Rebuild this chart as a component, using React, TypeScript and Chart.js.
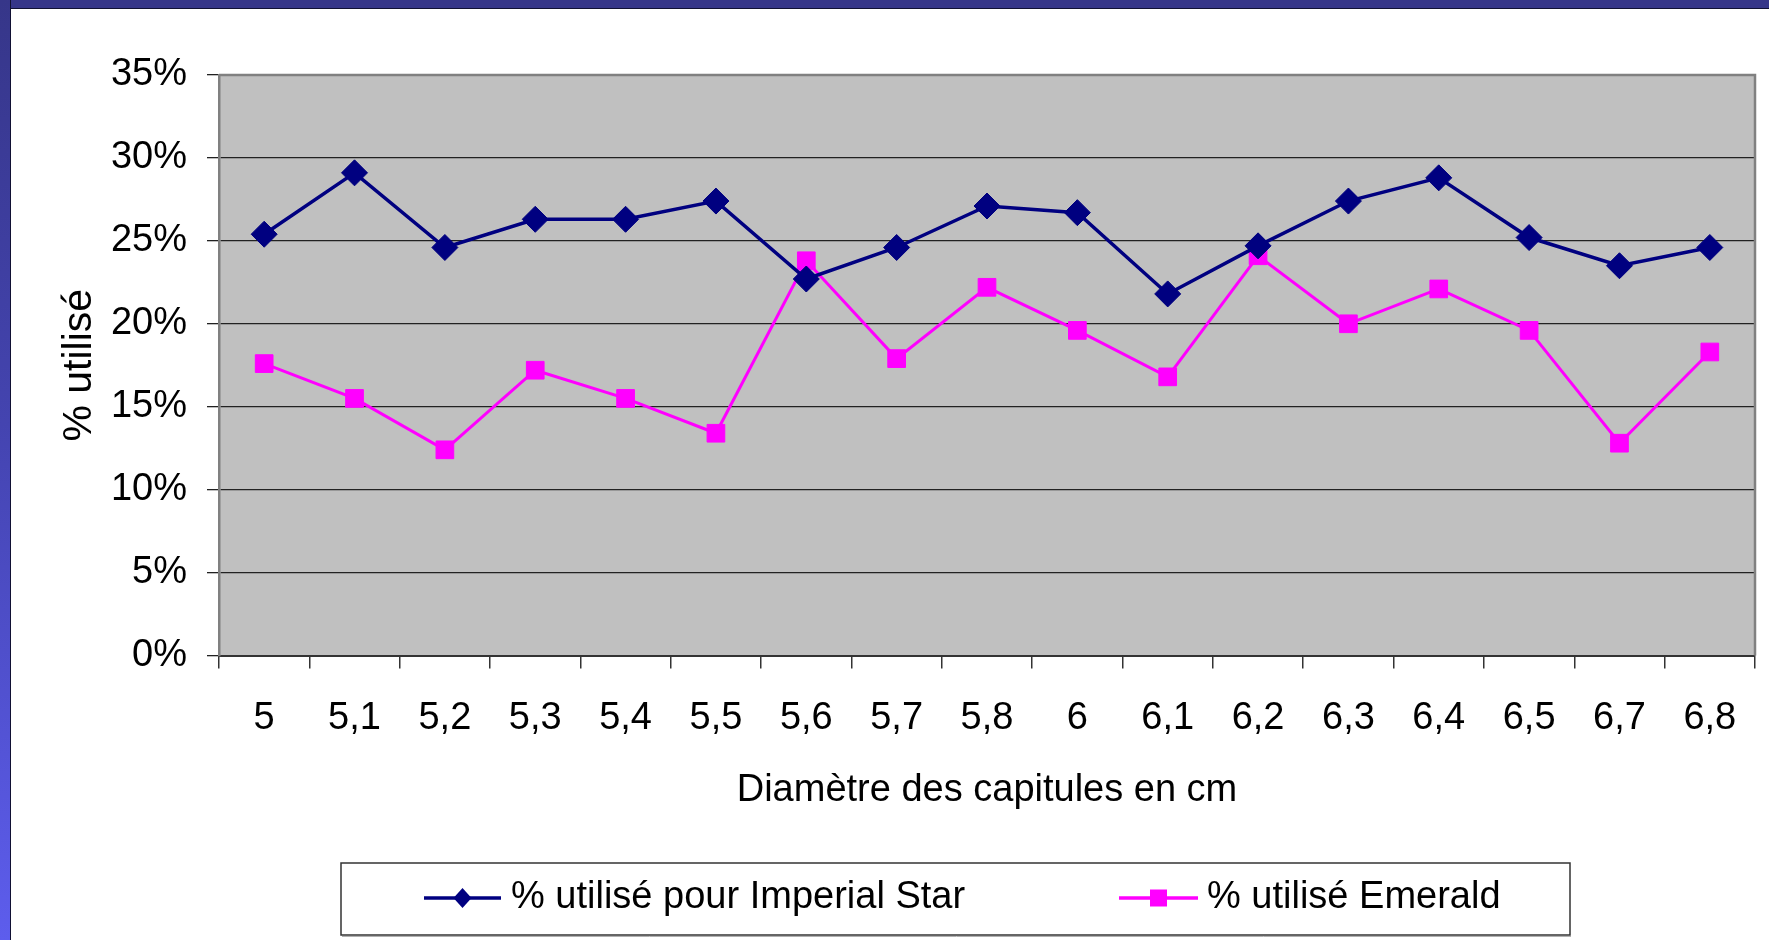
import React, { useEffect, useRef } from 'react';
import { Chart, registerables } from 'chart.js';

Chart.register(...registerables);

// ---- data ----
const categories = ['5', '5,1', '5,2', '5,3', '5,4', '5,5', '5,6', '5,7', '5,8', '6', '6,1', '6,2', '6,3', '6,4', '6,5', '6,7', '6,8'];
const imperialStar = [25.4, 29.1, 24.6, 26.3, 26.3, 27.4, 22.7, 24.6, 27.1, 26.7, 21.8, 24.7, 27.4, 28.8, 25.2, 23.5, 24.6];
const emerald = [17.6, 15.5, 12.4, 17.2, 15.5, 13.4, 23.8, 17.9, 22.2, 19.6, 16.8, 24.1, 20.0, 22.1, 19.6, 12.8, 18.3];
const seriesNames = ['% utilisé pour Imperial Star', '% utilisé Emerald'];
const yMin = 0;
const yMax = 35;
const yStep = 5;
const xTitle = 'Diamètre des capitules en cm';
const yTitle = '% utilisé';

const FONT = '"Liberation Sans", Arial, Helvetica, sans-serif';
const FS = 38;
const NAVY = '#000080';
const MAGENTA = '#FF00FF';

const CANVAS_W = 1758;
const CANVAS_H = 931;

const plotBackground = {
  id: 'plotBackground',
  beforeDraw(chart: any) {
    const { ctx, chartArea } = chart;
    ctx.save();
    ctx.fillStyle = '#C0C0C0';
    ctx.fillRect(chartArea.left, chartArea.top, chartArea.right - chartArea.left, chartArea.bottom - chartArea.top);
    ctx.restore();
  },
  beforeDatasetsDraw(chart: any) {
    const { ctx, chartArea } = chart;
    ctx.save();
    ctx.strokeStyle = '#808080';
    ctx.lineWidth = 2.5;
    ctx.beginPath();
    ctx.moveTo(chartArea.left, chartArea.top);
    ctx.lineTo(chartArea.right, chartArea.top);
    ctx.lineTo(chartArea.right, chartArea.bottom);
    ctx.stroke();
    ctx.restore();
  },
};

function drawMarker(ctx: CanvasRenderingContext2D, kind: string, x: number, y: number, color: string) {
  ctx.fillStyle = color;
  ctx.beginPath();
  if (kind === 'diamond') {
    const rx = 9;
    const ry = 10;
    ctx.moveTo(x, y - ry);
    ctx.lineTo(x + rx, y);
    ctx.lineTo(x, y + ry);
    ctx.lineTo(x - rx, y);
    ctx.closePath();
  } else {
    const h = 8.5;
    ctx.rect(x - h, y - h, 2 * h, 2 * h);
  }
  ctx.fill();
}

const boxLegend = {
  id: 'boxLegend',
  afterDraw(chart: any) {
    const ctx: CanvasRenderingContext2D = chart.ctx;
    const box = { x: 330, y: 854, w: 1229, h: 72 };
    const cy = 889;
    const items = [
      { text: chart.data.datasets[0].label, color: NAVY, kind: 'diamond', x0: 413, x1: 490, textX: 500 },
      { text: chart.data.datasets[1].label, color: MAGENTA, kind: 'square', x0: 1108, x1: 1187, textX: 1196 },
    ];
    ctx.save();
    ctx.fillStyle = '#ffffff';
    ctx.fillRect(box.x, box.y, box.w, box.h);
    ctx.strokeStyle = '#333333';
    ctx.lineWidth = 1.5;
    ctx.strokeRect(box.x, box.y, box.w, box.h);
    ctx.strokeStyle = '#b0b0b0';
    ctx.lineWidth = 1;
    ctx.beginPath();
    ctx.moveTo(box.x + 1, box.y + box.h + 1.5);
    ctx.lineTo(box.x + box.w + 1, box.y + box.h + 1.5);
    ctx.stroke();
    items.forEach((it) => {
      ctx.strokeStyle = it.color;
      ctx.lineWidth = 3.5;
      ctx.beginPath();
      ctx.moveTo(it.x0, cy);
      ctx.lineTo(it.x1, cy);
      ctx.stroke();
      drawMarker(ctx, it.kind, (it.x0 + it.x1) / 2, cy, it.color);
      ctx.fillStyle = '#000000';
      ctx.font = `${FS}px ${FONT}`;
      ctx.textBaseline = 'middle';
      ctx.textAlign = 'left';
      ctx.fillText(it.text, it.textX, cy);
    });
    ctx.restore();
  },
};

export default function App() {
  const canvasRef = useRef<HTMLCanvasElement | null>(null);

  useEffect(() => {
    if (!canvasRef.current) return;
    const chart = new Chart(canvasRef.current, {
      type: 'line',
      data: {
        labels: categories,
        datasets: [
          {
            label: seriesNames[0],
            data: imperialStar,
            borderColor: NAVY,
            backgroundColor: NAVY,
            borderWidth: 3.5,
            pointStyle: 'rectRot',
            pointRadius: 13,
            pointBorderColor: NAVY,
            pointBackgroundColor: NAVY,
            pointBorderWidth: 1,
            tension: 0,
          },
          {
            label: seriesNames[1],
            data: emerald,
            borderColor: MAGENTA,
            backgroundColor: MAGENTA,
            borderWidth: 3,
            pointStyle: 'rect',
            pointRadius: 12.5,
            pointBorderColor: MAGENTA,
            pointBackgroundColor: MAGENTA,
            pointBorderWidth: 1,
            tension: 0,
          },
        ],
      },
      options: {
        animation: false,
        responsive: false,
        devicePixelRatio: 1,
        layout: { padding: { top: 66, right: 8, bottom: 127, left: 0 } },
        plugins: {
          legend: { display: false },
          tooltip: { enabled: false },
        },
        scales: {
          x: {
            offset: true,
            grid: {
              offset: true,
              drawOnChartArea: false,
              drawTicks: true,
              tickLength: 13,
              color: '#333333',
              lineWidth: 1.5,
            },
            border: { color: '#333333', width: 2 },
            ticks: {
              color: '#000000',
              font: { family: FONT, size: FS, lineHeight: 2.62 },
              padding: 0,
              maxRotation: 0,
              autoSkip: false,
            },
            title: {
              display: true,
              text: xTitle,
              color: '#000000',
              font: { family: FONT, size: FS },
              padding: 0,
            },
            afterFit: (s: any) => {
              s.height = 157.5;
            },
          },
          y: {
            min: yMin,
            max: yMax,
            ticks: {
              stepSize: yStep,
              color: '#000000',
              font: { family: FONT, size: FS },
              padding: 20,
              callback: (v: any) => `${v}%`,
            },
            grid: {
              color: '#222222',
              lineWidth: 1.3,
              tickLength: 12,
              drawTicks: true,
            },
            border: { color: '#808080', width: 2.5 },
            title: {
              display: true,
              text: yTitle,
              color: '#000000',
              font: { family: FONT, size: 41 },
              padding: { top: 44, bottom: 0 },
            },
            afterFit: (s: any) => {
              s.width = 208;
            },
          },
        },
      },
      plugins: [plotBackground, boxLegend],
    } as any);
    return () => chart.destroy();
  }, []);

  return (
    <div style={{ position: 'absolute', left: 0, top: 0, width: 1769, height: 940, background: '#ffffff', overflow: 'hidden' }}>
      <div
        style={{
          position: 'absolute', left: 0, top: 0, width: 1769, height: 8,
          background: '#363689', borderBottom: '1px solid #111133',
        }}
      />
      <div
        style={{
          position: 'absolute', left: 0, top: 0, width: 10, height: 940,
          background: 'linear-gradient(to bottom, #363689 0%, #4444b0 45%, #5d5ded 100%)',
          borderRight: '1px solid #111133',
        }}
      />
      <canvas
        ref={canvasRef}
        width={CANVAS_W}
        height={CANVAS_H}
        style={{ position: 'absolute', left: 11, top: 9, width: CANVAS_W, height: CANVAS_H }}
      />
    </div>
  );
}
